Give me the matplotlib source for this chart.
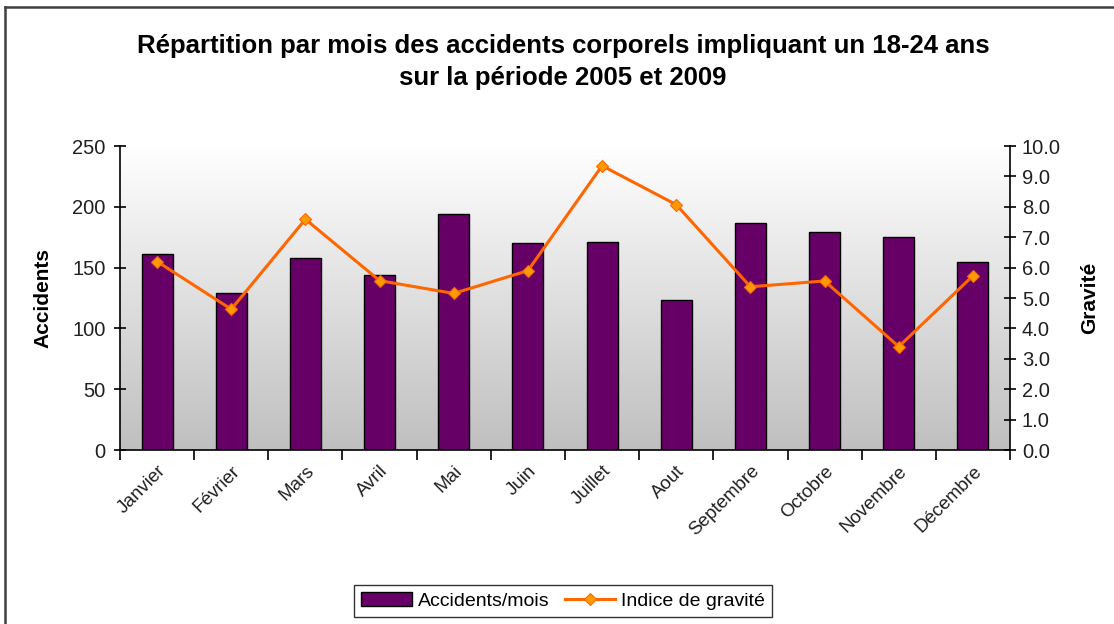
import numpy as np
import matplotlib
matplotlib.use("Agg")
import matplotlib.pyplot as plt
from matplotlib.lines import Line2D

months = ["Janvier", "Février", "Mars", "Avril", "Mai", "Juin", "Juillet",
          "Aout", "Septembre", "Octobre", "Novembre", "Décembre"]
accidents = [161, 129, 158, 144, 194, 170, 171, 123, 187, 179, 175, 155]
gravite = [6.2, 4.63, 7.59, 5.57, 5.15, 5.9, 9.35, 8.07, 5.37, 5.56, 3.4, 5.73]

title = "Répartition par mois des accidents corporels impliquant un 18-24 ans\nsur la période 2005 et 2009"

plt.rcParams['font.family'] = ['Liberation Sans', 'DejaVu Sans']

W, H = 1114, 624
fig = plt.figure(figsize=(W / 100, H / 100), dpi=100)
fig.patch.set_facecolor('white')

x0, x1, yb, yt = 120, 1010, 450, 146
ax = fig.add_axes([x0 / W, 1 - yb / H, (x1 - x0) / W, (yb - yt) / H])
ax2 = ax.twinx()

x = np.arange(len(months))
ax.set_xlim(-0.5, len(months) - 0.5)
ax.set_ylim(0, 250)
ax2.set_ylim(0, 10)

# gradient background
grad = np.linspace(1, 0, 256).reshape(-1, 1)
top = np.array([1.0, 1.0, 1.0])
bot = np.array([0.75, 0.75, 0.75])
img = top * grad[..., None] + bot * (1 - grad[..., None])
ax.imshow(img, extent=[0, 1, 0, 1], transform=ax.transAxes, aspect='auto',
          zorder=0, interpolation='bilinear')

ax.bar(x, accidents, width=0.42, color='#660066', edgecolor='black',
       linewidth=1.0, zorder=2, label='Accidents/mois')
ax2.plot(x, gravite, color='#ff6600', linewidth=2.2, marker='D',
         markersize=6, markerfacecolor='#ff9900', markeredgecolor='#ff6600',
         markeredgewidth=0.8, zorder=3, label='Indice de gravité')

for a in (ax, ax2):
    for s in a.spines.values():
        s.set_visible(False)
ax.spines['left'].set_visible(True)
ax.spines['bottom'].set_visible(True)
ax2.spines['right'].set_visible(True)
for s in (ax.spines['left'], ax.spines['bottom'], ax2.spines['right']):
    s.set_linewidth(1.2)
    s.set_color('black')

ax.set_yticks(np.arange(0, 251, 50))
ax.tick_params(axis='y', direction='inout', length=9, width=1.2,
               labelsize=14.5, pad=6, labelcolor='#202020')
ax2.set_yticks(np.arange(0, 10.01, 1))
ax2.set_yticklabels([f"{v:.1f}" for v in np.arange(0, 10.01, 1)])
ax2.tick_params(axis='y', direction='inout', length=9, width=1.2,
                labelsize=14.5, pad=4, labelcolor='#202020')

ax.set_xticks(np.arange(-0.5, len(months), 1), minor=False)
ax.set_xticklabels([])
ax.tick_params(axis='x', which='major', direction='out', length=7, width=1.2)
ax.set_xticks(x, minor=True)
ax.set_xticklabels(months, minor=True, rotation=45, ha='right',
                   rotation_mode='anchor', fontsize=13.5, color='#202020')
ax.tick_params(axis='x', which='minor', length=0, pad=9)

ax.set_ylabel('Accidents', fontsize=15, fontweight='bold', labelpad=14)
ax2.set_ylabel('Gravité', fontsize=15, fontweight='bold', labelpad=14)

ax.set_zorder(ax2.get_zorder() - 1)
ax2.patch.set_visible(False)

fig.text(563 / W, 1 - 62 / H, title, ha='center', va='center',
         fontsize=18.5, fontweight='bold', linespacing=1.45)

h1, l1 = ax.get_legend_handles_labels()
h2, l2 = ax2.get_legend_handles_labels()
leg = fig.legend(h1 + h2, l1 + l2, loc='center', bbox_to_anchor=(563 / W, 1 - 601 / H),
                 ncol=2, fontsize=14, frameon=True, fancybox=False,
                 edgecolor='black', handlelength=2.6, handletextpad=0.3,
                 columnspacing=0.8, borderpad=0.35)
leg.get_frame().set_linewidth(1.0)

# outer chart border (top and left visible)
fig.add_artist(Line2D([5 / W, 5 / W], [0, 1 - 7 / H], transform=fig.transFigure,
                      color='#404040', linewidth=1.8))
fig.add_artist(Line2D([5 / W, 1], [1 - 7 / H, 1 - 7 / H], transform=fig.transFigure,
                      color='#404040', linewidth=1.8))

fig.savefig('out.png', dpi=100)
